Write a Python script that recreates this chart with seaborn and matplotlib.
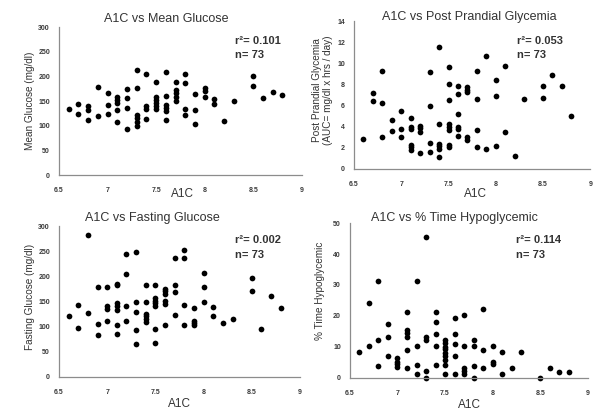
import matplotlib
matplotlib.use("Agg")
import matplotlib.pyplot as plt
import seaborn as sns
import pandas as pd

# A1C vs mean glucose
a1c_mean = [6.6, 6.7, 6.7, 6.8, 6.8, 6.8, 6.9, 6.9, 7.0, 7.0, 7.0,
            7.1, 7.1, 7.1, 7.1, 7.1, 7.2, 7.2, 7.2, 7.2,
            7.3, 7.3, 7.3, 7.3, 7.3, 7.3, 7.4, 7.4, 7.4, 7.4,
            7.5, 7.5, 7.5, 7.5, 7.5, 7.5, 7.6, 7.6, 7.6, 7.6, 7.6, 7.6,
            7.7, 7.7, 7.7, 7.7, 7.7, 7.8, 7.8, 7.8, 7.8, 7.9, 7.9, 7.9,
            8.0, 8.0, 8.0, 8.1, 8.1, 8.2, 8.3, 8.5, 8.5, 8.6, 8.7, 8.8]
mean_glucose = [134, 145, 123, 140, 131, 111, 178, 119, 167, 142, 123,
                158, 152, 147, 132, 108, 174, 156, 136, 94,
                213, 176, 122, 116, 107, 100, 204, 140, 134, 113,
                188, 158, 152, 146, 140, 135, 209, 161, 143, 136, 129, 112,
                189, 172, 166, 158, 151, 204, 187, 134, 121, 164, 132, 104,
                177, 171, 158, 155, 145, 110, 151, 200, 181, 156, 169, 163]

# A1C vs post prandial glycemia
a1c_ppg = [6.6, 6.7, 6.7, 6.8, 6.8, 6.8, 6.9, 6.9, 7.0, 7.0, 7.0,
           7.1, 7.1, 7.1, 7.1, 7.1, 7.1, 7.2, 7.2, 7.2, 7.2,
           7.3, 7.3, 7.3, 7.3, 7.4, 7.4, 7.4, 7.4, 7.4, 7.4,
           7.5, 7.5, 7.5, 7.5, 7.5, 7.5, 7.5, 7.5,
           7.6, 7.6, 7.6, 7.6, 7.6, 7.6, 7.7, 7.7, 7.7, 7.7, 7.7,
           7.8, 7.8, 7.8, 7.8, 7.9, 7.9, 8.0, 8.0, 8.0, 8.1, 8.1,
           8.2, 8.3, 8.5, 8.5, 8.6, 8.7, 8.8]
ppg_auc = [2.85, 7.2, 6.4, 9.3, 6.3, 3.0, 4.6, 3.6, 5.5, 3.8, 3.0,
           4.85, 4.0, 3.8, 2.3, 2.05, 1.8, 4.1, 3.85, 3.55, 1.5,
           9.2, 5.95, 2.5, 1.65, 11.6, 4.25, 2.4, 2.15, 1.9, 1.15,
           9.65, 8.1, 6.5, 4.25, 4.0, 3.65, 2.3, 2.1,
           7.85, 7.15, 5.2, 4.0, 3.8, 3.15, 7.8, 7.5, 7.3, 3.0, 2.7,
           9.25, 6.6, 3.65, 2.1, 10.7, 1.85, 8.4, 6.9, 2.2, 9.75, 3.55,
           1.2, 6.65, 7.85, 6.75, 8.9, 7.85, 5.0]

# A1C vs fasting glucose
a1c_fast = [6.6, 6.7, 6.7, 6.8, 6.8, 6.9, 6.9, 6.9, 7.0, 7.0, 7.0, 7.0,
            7.1, 7.1, 7.1, 7.1, 7.1, 7.1, 7.1, 7.2, 7.2, 7.2, 7.2,
            7.3, 7.3, 7.3, 7.3, 7.3, 7.4, 7.4, 7.4, 7.4, 7.4, 7.4,
            7.5, 7.5, 7.5, 7.5, 7.5, 7.5, 7.5, 7.6, 7.6, 7.6, 7.6, 7.6, 7.6,
            7.7, 7.7, 7.7, 7.7, 7.8, 7.8, 7.8, 7.8, 7.9, 7.9, 7.9, 7.9,
            8.0, 8.0, 8.0, 8.1, 8.1, 8.2, 8.3, 8.5, 8.5, 8.6, 8.7, 8.8]
fasting_glucose = [122, 142, 98, 283, 128, 179, 105, 84, 178, 140, 136, 111,
                   185, 182, 146, 140, 134, 103, 86, 244, 205, 141, 111,
                   248, 148, 129, 94, 65, 182, 148, 126, 121, 116, 109,
                   182, 156, 150, 146, 141, 96, 68, 175, 170, 165, 150, 145, 104,
                   237, 182, 169, 124, 252, 237, 142, 104, 137, 111, 107, 104,
                   207, 179, 149, 139, 121, 108, 116, 197, 171, 95, 160, 137]

# A1C vs % time hypoglycemic
a1c_hypo = [6.6, 6.7, 6.7, 6.8, 6.8, 6.8, 6.9, 6.9, 6.9, 7.0, 7.0, 7.0, 7.0,
            7.1, 7.1, 7.1, 7.1, 7.1, 7.1, 7.2, 7.2, 7.2, 7.2,
            7.3, 7.3, 7.3, 7.3, 7.3, 7.4, 7.4, 7.4, 7.4, 7.4,
            7.5, 7.5, 7.5, 7.5, 7.5, 7.5, 7.5, 7.5, 7.5,
            7.6, 7.6, 7.6, 7.6, 7.6, 7.7, 7.7, 7.7, 7.7, 7.7,
            7.8, 7.8, 7.8, 7.8, 7.9, 7.9, 7.9, 8.0, 8.0, 8.0, 8.1, 8.1,
            8.2, 8.3, 8.5, 8.6, 8.7, 8.8]
pct_hypo = [8.2, 24.3, 10.2, 31.3, 12.1, 3.9, 17.3, 13.2, 7.0, 6.3, 5.2, 4.3, 3.6,
            21.2, 15.3, 14.4, 13.3, 9.1, 3.0, 31.3, 10.2, 4.1, 1.1,
            45.4, 13.3, 12.2, 2.2, 0.0, 21.2, 18.1, 14.3, 10.2, 4.1,
            12.2, 11.1, 10.0, 9.2, 8.1, 7.0, 5.6, 4.1, 1.1,
            19.2, 14.1, 11.0, 7.1, 1.1, 20.3, 10.2, 3.2, 2.2, 1.1,
            12.2, 10.2, 3.9, 0.0, 22.2, 9.0, 3.0, 10.2, 5.2, 4.3, 8.2, 1.1,
            3.0, 8.2, 0.0, 3.0, 1.9, 1.9]

x_ticks = [6.5, 7, 7.5, 8, 8.5, 9]
x_tick_labels = ["6.5", "7", "7.5", "8", "8.5", "9"]

panels = [
    dict(x=a1c_mean, y=mean_glucose, title="A1C vs Mean Glucose",
         ylabel="Mean Glucose (mg/dl)", yticks=[0, 50, 100, 150, 200, 250, 300],
         r2="0.101", n=73),
    dict(x=a1c_ppg, y=ppg_auc, title="A1C vs Post Prandial Glycemia",
         ylabel="Post Prandial Glycemia\n(AUC= mg/dl x hrs / day)",
         yticks=[0, 2, 4, 6, 8, 10, 12, 14], r2="0.053", n=73),
    dict(x=a1c_fast, y=fasting_glucose, title="A1C vs Fasting Glucose",
         ylabel="Fasting Glucose (mg/dl)", yticks=[0, 50, 100, 150, 200, 250, 300],
         r2="0.002", n=73),
    dict(x=a1c_hypo, y=pct_hypo, title="A1C vs % Time Hypoglycemic",
         ylabel="% Time Hypoglycemic", yticks=[0, 10, 20, 30, 40, 50],
         r2="0.114", n=73),
]

# layout: axes rectangles plus placement of title / labels / stats (axes fraction)
layout = [
    dict(rect=[0.0992, 0.574, 0.408, 0.360], title=(0.44, 1.054), xlab=(0.51, -0.09),
         ylab=(-0.099, 0.5), stats=(0.724, 0.905, 0.81)),
    dict(rect=[0.595, 0.589, 0.397, 0.359], title=(0.487, 1.03), xlab=(0.513, -0.13),
         ylab=(-0.089, 0.535), stats=(0.69, 0.867, 0.772)),
    dict(rect=[0.0992, 0.083, 0.405, 0.367], title=(0.386, 1.053), xlab=(0.50, -0.14),
         ylab=(-0.10, 0.53), stats=(0.73, 0.907, 0.808)),
    dict(rect=[0.588, 0.081, 0.400, 0.376], title=(0.44, 1.034), xlab=(0.504, -0.135),
         ylab=(-0.105, 0.56), stats=(0.70, 0.892, 0.795)),
]

sns.set_theme(style="white")
plt.rcParams["font.family"] = ["Liberation Sans", "DejaVu Sans"]

text_color = "#333333"
tick_text_color = "#3a3a3a"
axis_color = "#8c8c8c"

fig = plt.figure(figsize=(5.95, 4.11), dpi=100)
fig.patch.set_facecolor("white")

for p, lay in zip(panels, layout):
    ax = fig.add_axes(lay["rect"])
    df = pd.DataFrame({"A1C": p["x"], "value": p["y"]})
    sns.scatterplot(data=df, x="A1C", y="value", ax=ax, color="black",
                    s=17, linewidth=0, clip_on=False)
    ax.set_xlim(6.5, 9)
    ax.set_ylim(p["yticks"][0], p["yticks"][-1])
    ax.set_xticks(x_ticks, x_tick_labels, fontsize=5, fontweight="bold",
                  color=tick_text_color)
    ax.set_yticks(p["yticks"], [str(v) for v in p["yticks"]], fontsize=5,
                  fontweight="bold", color=tick_text_color)
    ax.tick_params(axis="both", direction="inout", length=3, width=0.8,
                   color=axis_color)
    ax.tick_params(axis="x", pad=7)
    ax.tick_params(axis="y", pad=5)
    for side in ("top", "right"):
        ax.spines[side].set_visible(False)
    for side in ("left", "bottom"):
        ax.spines[side].set_color(axis_color)
        ax.spines[side].set_linewidth(0.9)

    tx, ty = lay["title"]
    ax.set_title(p["title"], fontsize=9, color=text_color, x=tx, y=ty,
                 va="center", ha="center", pad=0)

    ax.set_xlabel("A1C", fontsize=8.5, color=text_color)
    ax.xaxis.set_label_coords(*lay["xlab"])
    ax.set_ylabel(p["ylabel"], fontsize=7.2, color=text_color, linespacing=1.15)
    ax.yaxis.set_label_coords(*lay["ylab"])

    sx, sy1, sy2 = lay["stats"]
    ax.text(sx, sy1, f"r\u00b2= {p['r2']}", transform=ax.transAxes, fontsize=8,
            fontweight="bold", color=text_color, ha="left", va="center")
    ax.text(sx, sy2, f"n= {p['n']}", transform=ax.transAxes, fontsize=8,
            fontweight="bold", color=text_color, ha="left", va="center")

fig.savefig("out.png", dpi=100, facecolor="white")
